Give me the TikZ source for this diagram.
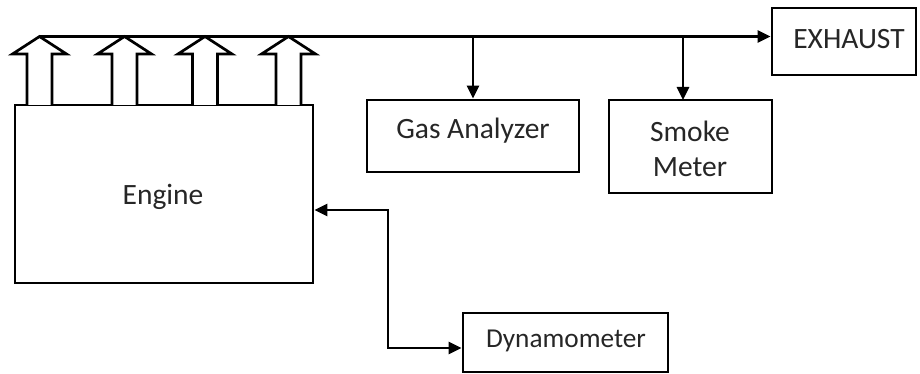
\documentclass[tikz,border=0pt]{standalone}
\usepackage{fontspec}
\setmainfont{Carlito}
\usetikzlibrary{arrows.meta}
\tikzset{
  box/.style={draw, line width=2.7pt, rectangle, inner sep=0pt},
  lbl/.style={text=black!85, font=\fontsize{29.5}{34}\selectfont, inner sep=0pt, align=center},
  smalllbl/.style={lbl, font=\fontsize{27.3}{32}\selectfont},
  conn/.style={line width=2.7pt},
  tip/.style={-{Triangle[length=13pt,width=12pt]}},
  dtip/.style={{Triangle[length=13pt,width=12pt]}-{Triangle[length=13pt,width=12pt]}},
  blockarrow/.style={draw, line width=2.7pt, fill=white, line join=miter}
}
\begin{document}
\begin{tikzpicture}[x=1pt,y=-1pt]
\useasboundingbox (0,0) rectangle (920,374);
% boxes
\node[box, minimum width=298pt, minimum height=178pt] (engine) at (164,194) {};
\node[lbl] (enginet) at (163,197) {Engine};
\node[box, minimum width=212pt, minimum height=72pt] (gas) at (473,136) {};
\node[lbl] (gast) at (473,131) {Gas Analyzer};
\node[box, minimum width=163pt, minimum height=93pt] (smoke) at (690.5,146.5) {};
\node[lbl] (smoket) at (690,149) {Smoke\\[1pt]Meter};
\node[box, minimum width=144pt, minimum height=67pt] (exh) at (844,41.5) {};
\node[lbl] (exht) at (849,39) {EXHAUST};
\node[box, minimum width=205pt, minimum height=59pt] (dyn) at (565.5,342.5) {};
\node[smalllbl] (dynt) at (566,341) {Dynamometer};
% block arrows
\foreach \cx in {39.5,124.5,205,288.5}{
  \path[blockarrow] (\cx-12.5,105) -- (\cx-12.5,54) -- (\cx-27,54) -- (\cx,36.5)
    -- (\cx+27,54) -- (\cx+12.5,54) -- (\cx+12.5,105);
}
% top line
\coordinate (start) at (39.5,36.5);
\coordinate (bg) at (473,36.5);
\coordinate (bs) at (683,36.5);
\coordinate (sin) at (683,100);
\draw[conn, tip] (start) -- (exh.west |- start);
\draw[conn, tip] (bg) -- (gas.north);
\draw[conn, tip] (bs) -- (sin);
% engine <-> dynamometer
\coordinate (e1) at (313,210);
\coordinate (c1) at (388,210);
\coordinate (c2) at (388,348);
\draw[conn, dtip] (engine.east |- e1) -- (c1) -- (c2) -- (dyn.west |- c2);
\end{tikzpicture}
\end{document}
